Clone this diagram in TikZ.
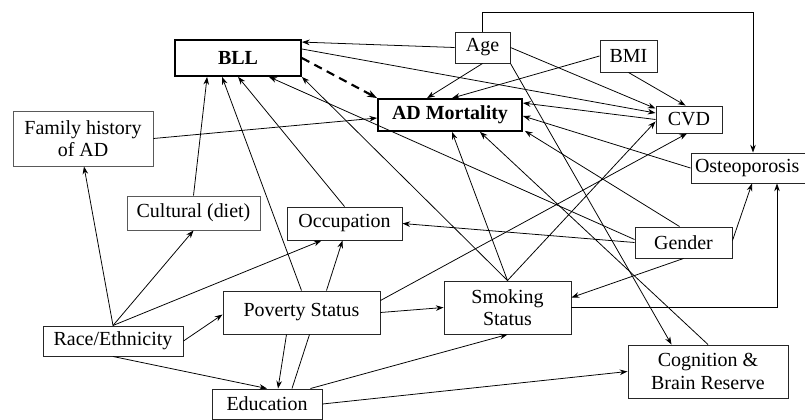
\documentclass[tikz,border=0pt]{standalone}
\usepackage{fontspec}
\setmainfont{Liberation Serif}
\usetikzlibrary{arrows.meta,calc}

\begin{document}
\begin{tikzpicture}[x=0.025cm,y=-0.025cm,
  box/.style={draw=black!85,line width=0.7pt,rectangle,inner sep=0pt,align=center,
    font=\fontsize{14.2}{16}\selectfont},
  thickbox/.style={box,draw=black,line width=1.3pt,font=\fontsize{14.2}{16}\selectfont\bfseries},
  arr/.style={-{Stealth[length=5.5pt,width=4pt]},line width=0.55pt}]
\useasboundingbox (0,0) rectangle (805,420);

% variables
\node[thickbox,minimum width=126*0.025cm,minimum height=36*0.025cm] (bll) at (238,58) {BLL};
\node[box,minimum width=55*0.025cm,minimum height=31*0.025cm] (age) at (482.5,47.5) {Age};
\node[box,minimum width=57*0.025cm,minimum height=32*0.025cm] (bmi) at (628.5,56) {BMI};
\node[thickbox,minimum width=144*0.025cm,minimum height=32*0.025cm] (ad) at (450,115) {AD Mortality};
\node[box,minimum width=66*0.025cm,minimum height=27*0.025cm] (cvd) at (689,119.5) {CVD};
\node[box,draw=black!65,minimum width=140*0.025cm,minimum height=55*0.025cm] (fam) at (83,138.5) {Family history\\of AD};
\node[box,minimum width=118*0.025cm,minimum height=30*0.025cm] (osteo) at (750,168) {\hspace*{-4pt}Osteoporosis};
\node[box,draw=black!65,minimum width=133*0.025cm,minimum height=34*0.025cm] (cult) at (193.5,213) {Cultural (diet)};
\node[box,minimum width=115*0.025cm,minimum height=33*0.025cm] (occ) at (344.5,223.5) {Occupation};
\node[box,minimum width=97*0.025cm,minimum height=31*0.025cm] (gender) at (683.5,242.5) {Gender};
\node[box,minimum width=157*0.025cm,minimum height=43*0.025cm] (pov) at (301.5,312.5) {Poverty Status};
\node[box,minimum width=127*0.025cm,minimum height=53*0.025cm] (smoke) at (507.5,307.5) {Smoking\\Status};
\node[box,minimum width=140*0.025cm,minimum height=30*0.025cm] (race) at (113,341) {Race/Ethnicity};
\node[box,minimum width=110*0.025cm,minimum height=30*0.025cm] (edu) at (267,404) {Education};
\node[box,minimum width=160*0.025cm,minimum height=53*0.025cm] (cog) at (708,371.5) {Cognition \&\\Brain Reserve};

% main exposure
\draw[-{Stealth[length=7pt,width=5pt]},line width=1.5pt,dash pattern=on 6pt off 4pt] (bll.east) -- (ad.north west);

\draw[arr] (age.west) -- ($(bll.north east)+(0,3)$);
\draw[arr] ($(bll.east)+(0,-9)$) -- ($(cvd.west)+(0,-6.5)$);
\draw[arr] (age.east) -- ($(cvd.west)+(0,-11)$);
\draw[arr] (age.south) -- ($(ad.north west)+(50,0)$);
\draw[arr] (bmi.west) -- ($(ad.north west)+(75,0)$);
\draw[arr] (bmi.south) -- ($(cvd.north west)+(30,0)$);
\draw[arr] (age.north) -- ++(0,-19) -| ($(osteo.north)+(3,0)$);
\draw[arr] (age.south east) -- ($(cog.north west)+(44,0)$);

\draw[arr] (cvd.west) -- ($(ad.east)+(0,-12)$);
\draw[arr] (osteo.west) -- ($(ad.east)+(0,1)$);
\draw[arr] ($(gender.north west)+(45,0)$) -- ($(ad.south east)+(2,-1)$);
\draw[arr] ($(gender.west)+(0,-3)$) -- ($(bll.south west)+(95,0)$);
\draw[arr] (gender.west) -- (occ.east);
\draw[arr] ($(gender.east)+(0,-2)$) -- ($(osteo.south)+(2,0)$);
\draw[arr] (gender.south) -- ($(smoke.east)+(0,-10)$);

\draw[arr] (smoke.east) -| ($(osteo.south)+(27,0)$);
\draw[arr] (smoke.north) -- (bll.south east);
\draw[arr] (smoke.north) -- ($(ad.south)+(2,0)$);
\draw[arr] (smoke.north) -- ($(cvd.south west)+(0,-12)$);
\draw[arr] (cog.north) -- ($(ad.south)+(30,0)$);

\draw[arr] (fam.east) -- ($(ad.west)+(0,3)$);
\draw[arr] (cult.north) -- ($(bll.south west)+(33,0)$);
\draw[arr] (pov.north) -- ($(bll.south west)+(48,0)$);
\draw[arr] (occ.north) -- ($(bll.south west)+(64,0)$);
\draw[arr] ($(pov.north)+(25,0)$) -- ($(occ.south)+(-2,0)$);
\draw[arr] ($(pov.south)+(-15,0)$) -- ($(edu.north)+(11,0)$);
\draw[line width=0.55pt] ($(edu.north)+(25,0)$) -- ($(pov.south)+(8,0)$);
\draw[arr] (pov.east) -- (smoke.west);
\draw[arr] ($(pov.east)+(0,-12)$) -- ($(cvd.south)+(-2,0)$);

\draw[arr] (race.north) -- ($(fam.south)+(1,0)$);
\draw[arr] (race.north) -- (cult.south);
\draw[arr] (race.north) -- ($(occ.south)+(-23,0)$);
\draw[arr] (race.east) -- ($(pov.west)+(0,2)$);
\draw[arr] (race.south) -- (edu.north);
\draw[arr] ($(edu.north east)+(-12,0)$) -- (smoke.south);
\draw[arr] (edu.east) -- (cog.west);

\end{tikzpicture}
\end{document}
